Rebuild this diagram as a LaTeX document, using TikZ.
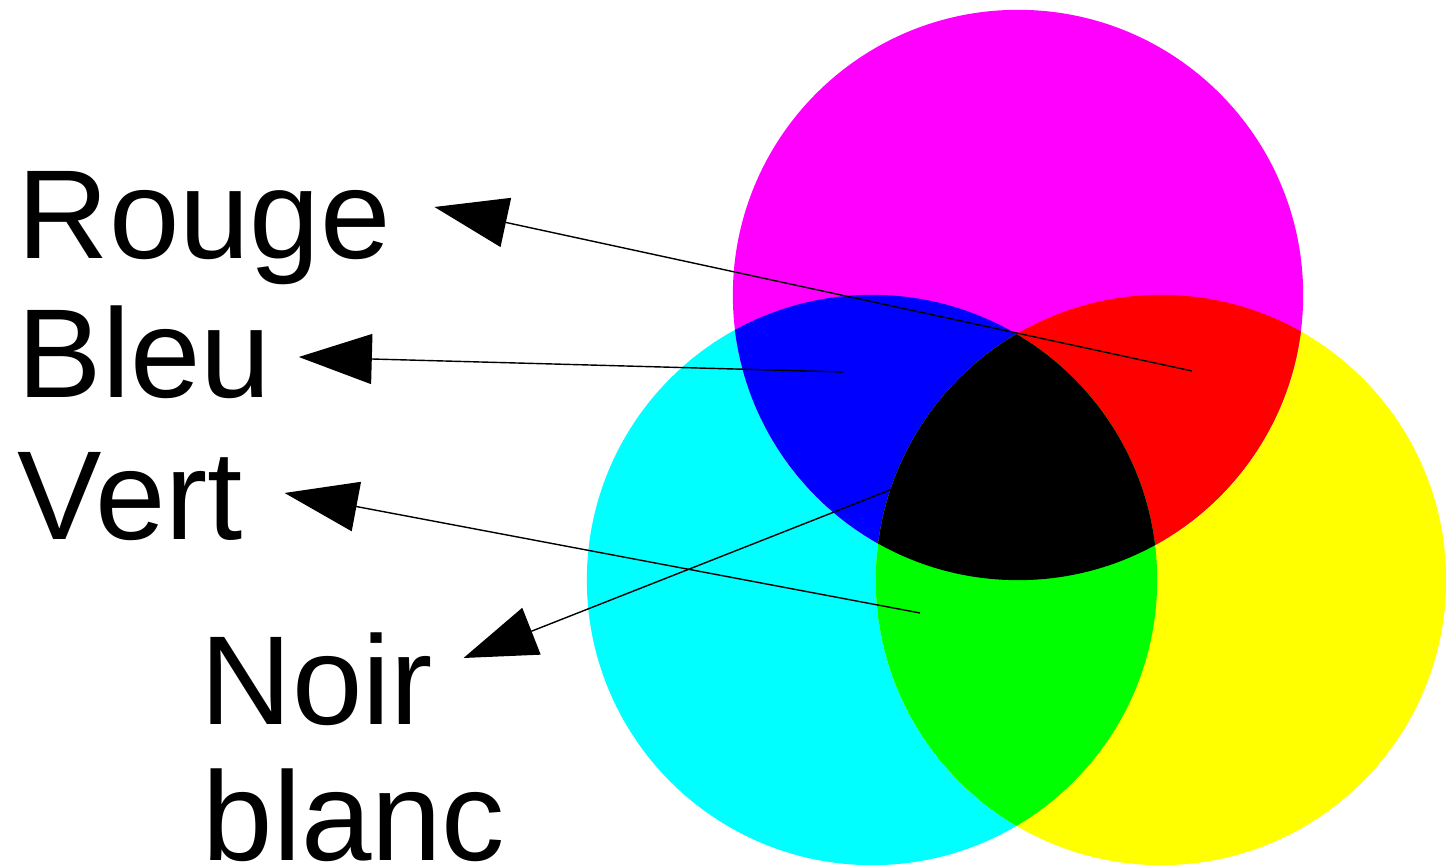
\documentclass[tikz,border=0pt]{standalone}
\usepackage{fontspec}
\setmainfont{Liberation Sans}
\usetikzlibrary{arrows.meta}
\definecolor{cmyc}{RGB}{0, 255, 255}
\definecolor{cmym}{RGB}{255, 0, 255}
\definecolor{cmyy}{RGB}{255, 255, 0}
\definecolor{rgbr}{RGB}{255, 0, 0}
\definecolor{rgbg}{RGB}{0, 255, 0}
\definecolor{rgbb}{RGB}{0, 0, 255}

\begin{document}
\begin{tikzpicture}[
  x=0.01cm, y=-0.01cm,
  disc/.style={radius=2.85cm},
  lbl/.style={anchor=base west, inner sep=0pt, font=\fontsize{36}{42}\selectfont},
  arrow/.style={-{Triangle[length=0.73cm,width=0.5cm]}, line width=0.4pt}
]
  \useasboundingbox (0,0) rectangle (1446,868);

  % Centres of the three discs
  \coordinate (mc) at (1018,295);
  \coordinate (cc) at (872,580);
  \coordinate (yc) at (1161,580);

  % Discs
  \fill[cmyc] (cc) circle[disc];
  \fill[cmyy] (yc) circle[disc];
  \fill[cmym] (mc) circle[disc];

  % Overlaps
  \begin{scope}
    \clip (mc) circle[disc];
    \fill[rgbb] (cc) circle[disc];
    \fill[rgbr] (yc) circle[disc];
  \end{scope}
  \begin{scope}
    \clip (cc) circle[disc];
    \fill[rgbg] (yc) circle[disc];
    \clip (yc) circle[disc];
    \fill[black] (mc) circle[disc];
  \end{scope}

  % Points inside the regions
  \coordinate (red) at (1192,371);
  \coordinate (blue) at (843,372);
  \coordinate (green) at (920,613);
  \coordinate (black) at (895,488);

  % Labels
  \node[lbl] (rouge) at (17,259) {Rouge};
  \node[lbl] (bleu) at (17,398) {Bleu};
  \node[lbl] (vert) at (17,540) {Vert};
  \node[lbl] (noir) at (200,725) {Noir};
  \node[lbl] (blanc) at (202,861) {blanc};

  % Arrows
  \draw[arrow] (red) -- ([shift={(43,-52)}]rouge.base east);
  \draw[arrow] (blue) -- ([shift={(27,-41)}]bleu.base east);
  \draw[arrow] (green) -- ([shift={(41,-47)}]vert.base east);
  \draw[arrow] (black) -- ([shift={(30,-67)}]noir.base east);
\end{tikzpicture}
\end{document}
